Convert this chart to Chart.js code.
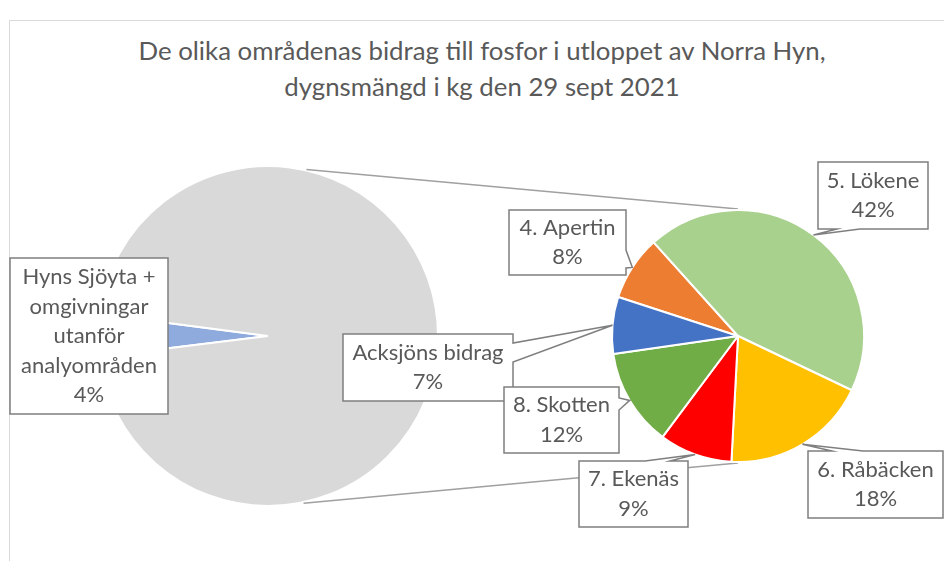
<!DOCTYPE html>
<html lang="sv">
<head>
    <meta charset="UTF-8">
    <title>Fosfor Norra Hyn</title>
    <script src="https://cdn.jsdelivr.net/npm/chart.js@4.4.1/dist/chart.umd.min.js"></script>
    <style>
        body { margin: 0; background: #fff; }
        .wrap { position: relative; width: 944px; height: 561px; overflow: hidden; background: #fff; }
        .frame { position: absolute; left: 9px; top: 20px; width: 1200px; height: 800px;
                 border-left: 1px solid #d9d9d9; border-top: 1px solid #d9d9d9; }
        .title { position: absolute; left: 0; top: 32px; width: 964px; text-align: center;
                 font-family: Lato, sans-serif; font-size: 25.8px; line-height: 36px; color: #595959; }
        canvas { position: absolute; left: 0; top: 0; }
    </style>
</head>
<body>
<div class="wrap">
    <div class="frame"></div>
    <div class="title" id="title"></div>
    <canvas id="mainPie" width="944" height="561"></canvas>
    <canvas id="subPie" width="944" height="561"></canvas>
</div>
<script>
    // data (share of total, %)
    const titleLines = ['De olika områdenas bidrag till fosfor i utloppet av Norra Hyn,', 'dygnsmängd i kg den 29 sept 2021'];
    const hynsLabel = ['Hyns Sjöyta +', 'omgivningar', 'utanför', 'analyområden'];
    const hynsValue = 4;
    const subLabels = ['4. Apertin', '5. Lökene', '6. Råbäcken', '7. Ekenäs', '8. Skotten', 'Acksjöns bidrag'];
    const subValues = [8, 42, 18, 9, 12, 7];

    const mainColors = ['#8FAADC', '#D9D9D9'];
    const subColors = ['#ED7D31', '#A9D18E', '#FFC000', '#FF0000', '#70AD47', '#4472C4'];

    const otherValue = subValues.reduce((a, b) => a + b, 0);
    const grandTotal = hynsValue + otherValue;

    const FONT = 'Lato';
    const TEXT = '#595959';

    // label boxes (layout only), callout on the given side
    const hynsBox = { x: 10, y: 258, w: 158, h: 156 };
    const subBoxes = [
        { x: 509, y: 210, w: 117, h: 65, side: 'right', base: [40, 58] },
        { x: 818, y: 162, w: 110, h: 67, side: 'bottom', base: [19, 42] },
        { x: 808, y: 451, w: 135, h: 67, side: 'top', base: [24, 55] },
        { x: 579, y: 461, w: 109, h: 66, side: 'top', base: [66, 91] },
        { x: 504, y: 387, w: 115, h: 66, side: 'right', base: [11, 23] },
        { x: 343, y: 334, w: 170, h: 67, side: 'right', base: [9, 28] }
    ];
    const drawOrder = [0, 1, 2, 3, 5, 4];
    const connectorAngles = { upper: -77, lower: 78 }; // degrees on the main pie

    document.getElementById('title').innerHTML = titleLines.join('<br>');

    const pct = v => Math.round(v / grandTotal * 100) + '%';

    const mainChart = new Chart(document.getElementById('mainPie'), {
        type: 'pie',
        data: {
            labels: ['Hyns Sjöyta + omgivningar utanför analyområden', 'Övrigt'],
            datasets: [{
                data: [hynsValue, otherValue],
                backgroundColor: mainColors,
                borderColor: '#ffffff',
                borderWidth: 2,
                hoverBorderWidth: 2
            }]
        },
        options: {
            responsive: false,
            animation: false,
            events: [],
            rotation: 263,
            layout: { padding: { left: 97, right: 505, top: 165, bottom: 54 } },
            plugins: {
                legend: { display: false },
                tooltip: { enabled: false }
            }
        }
    });

    function boxPath(ctx, b, tip) {
        const { x, y, w, h } = b;
        ctx.beginPath();
        ctx.moveTo(x, y);
        if (tip && b.side === 'top') {
            ctx.lineTo(x + b.base[0], y); ctx.lineTo(tip.x, tip.y); ctx.lineTo(x + b.base[1], y);
        }
        ctx.lineTo(x + w, y);
        if (tip && b.side === 'right') {
            ctx.lineTo(x + w, y + b.base[0]); ctx.lineTo(tip.x, tip.y); ctx.lineTo(x + w, y + b.base[1]);
        }
        ctx.lineTo(x + w, y + h);
        if (tip && b.side === 'bottom') {
            ctx.lineTo(x + b.base[1], y + h); ctx.lineTo(tip.x, tip.y); ctx.lineTo(x + b.base[0], y + h);
        }
        ctx.lineTo(x, y + h);
        ctx.closePath();
    }

    function drawLabel(ctx, b, lines, tip) {
        ctx.save();
        boxPath(ctx, b, tip);
        ctx.fillStyle = '#ffffff';
        ctx.fill();
        ctx.lineWidth = 1.5;
        ctx.strokeStyle = '#7f7f7f';
        ctx.stroke();
        ctx.fillStyle = TEXT;
        ctx.font = '22px ' + FONT;
        ctx.textAlign = 'center';
        ctx.textBaseline = 'middle';
        const lh = 29.5;
        const cy = b.y + b.h / 2 - (lines.length - 1) * lh / 2;
        lines.forEach((t, i) => ctx.fillText(t, b.x + b.w / 2, cy + i * lh));
        ctx.restore();
    }

    const pieOfPie = {
        id: 'pieOfPie',
        beforeDatasetsDraw(chart) {
            const ctx = chart.ctx;
            const big = mainChart.getDatasetMeta(0).data[0];
            const small = chart.getDatasetMeta(0).data[0];
            const R = big.outerRadius + 1;
            const r = small.outerRadius + 1;
            const up = connectorAngles.upper * Math.PI / 180;
            const lo = connectorAngles.lower * Math.PI / 180;
            ctx.save();
            ctx.strokeStyle = '#a0a0a0';
            ctx.lineWidth = 1.5;
            ctx.beginPath();
            ctx.moveTo(big.x + R * Math.cos(up), big.y + R * Math.sin(up));
            ctx.lineTo(small.x, small.y - r);
            ctx.moveTo(big.x + R * Math.cos(lo), big.y + R * Math.sin(lo));
            ctx.lineTo(small.x, small.y + r);
            ctx.stroke();
            ctx.restore();
        },
        afterDatasetsDraw(chart) {
            const ctx = chart.ctx;
            drawLabel(ctx, hynsBox, hynsLabel.concat([pct(hynsValue)]), null);
            const arcs = chart.getDatasetMeta(0).data;
            drawOrder.forEach(i => {
                const a = arcs[i];
                const mid = (a.startAngle + a.endAngle) / 2;
                const tip = { x: a.x + a.outerRadius * Math.cos(mid), y: a.y + a.outerRadius * Math.sin(mid) };
                drawLabel(ctx, subBoxes[i], [subLabels[i], pct(subValues[i])], tip);
            });
        }
    };

    new Chart(document.getElementById('subPie'), {
        type: 'pie',
        data: {
            labels: subLabels,
            datasets: [{
                data: subValues,
                backgroundColor: subColors,
                borderColor: '#ffffff',
                borderWidth: 2,
                hoverBorderWidth: 2
            }]
        },
        options: {
            responsive: false,
            animation: false,
            events: [],
            rotation: -72,
            layout: { padding: { left: 611, right: 79, top: 209, bottom: 98 } },
            plugins: {
                legend: { display: false },
                tooltip: { enabled: false }
            }
        },
        plugins: [pieOfPie]
    });
</script>
</body>
</html>
